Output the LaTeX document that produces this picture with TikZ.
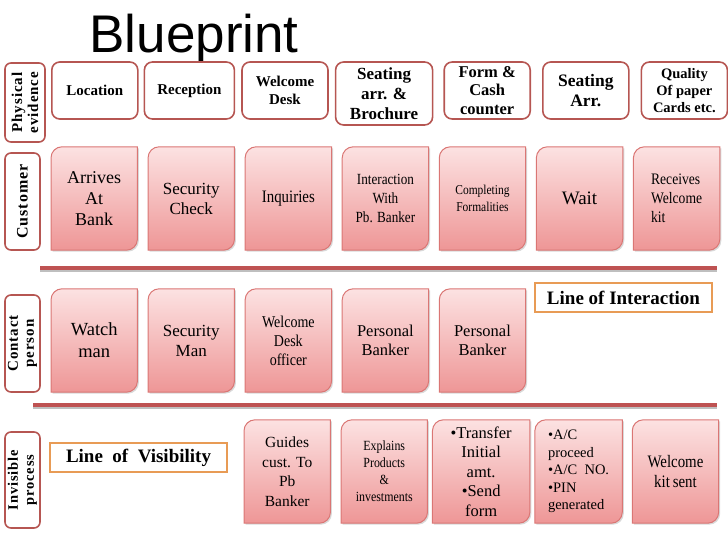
\documentclass[tikz,border=0pt]{standalone}
\usepackage{fontspec}
\setmainfont{Liberation Serif}
\newfontfamily\condfont[FakeStretch=0.85]{Liberation Serif}
\newfontfamily\spacedfont[LetterSpace=6]{Liberation Serif}
\newfontfamily\titlefont{Liberation Sans}
\usetikzlibrary{backgrounds,positioning,shadows}
\definecolor{bpred}{RGB}{182,86,82}
\definecolor{bpline}{RGB}{190,82,82}
\definecolor{bppink}{RGB}{218,118,116}
\definecolor{bptop}{RGB}{252,226,226}
\definecolor{bpbot}{RGB}{238,150,150}
\definecolor{bporange}{RGB}{232,155,85}
\newcommand\fsz[2]{\fontsize{#1}{#2}\selectfont}

\begin{document}
\begin{tikzpicture}[x=1pt,y=1pt,node distance=10.67pt,
    evid/.style={draw=bpred,line width=1.6pt,rounded corners=8pt,fill=white,minimum width=86pt,minimum height=57pt,inner sep=2pt,align=center,font=\bfseries\fsz{15}{18}},
    act/.style={minimum width=86pt,minimum height=103pt,inner sep=2pt,align=center},
    actframe/.style={draw=bppink,line width=1pt,top color=bptop,bottom color=bpbot,drop shadow={shadow xshift=1.5pt,shadow yshift=-1.5pt,opacity=.3}},
    lane/.style={draw=bpred,line width=1.6pt,rounded corners=6pt,rotate=90,minimum height=35pt,inner sep=1pt,align=center,font=\spacedfont\bfseries\fsz{15}{16}},
    linebox/.style={draw=bporange,line width=1.6pt,fill=white,minimum width=177pt,minimum height=29pt,inner sep=2pt,font=\bfseries\fsz{19}{22}},
    sepline/.style={bpline,line width=3.5pt}]
        \useasboundingbox (0,0) rectangle (728,-546);
        \node[anchor=base west,font=\titlefont\fsz{53}{60}] (title) at (86,-52) {Blueprint};
        \node[lane,minimum width=79pt,minimum height=40pt] (l1) at (25,-102.5) {Physical\\evidence};
        \node[lane,minimum width=97pt,font=\spacedfont\bfseries\fsz{16}{16}] (l2) at (22.5,-201.5) {Customer};
        \node[lane,minimum width=97pt] (l3) at (22.5,-343.5) {Contact\\person};
        \node[lane,minimum width=96pt,font=\spacedfont\bfseries\fsz{14.5}{16}] (l4) at (22.5,-480) {Invisible\\process};
        \node[evid,anchor=west] (p1) at (51,-90.5) {Location};
        \node[evid,minimum width=90pt,right=5pt of p1] (p2) {Reception};
        \node[evid,right=6pt of p2] (p3) {Welcome\\Desk};
        \node[evid,minimum width=97pt,minimum height=63pt,font=\bfseries\fsz{17}{20},right=6pt of p3,yshift=-3pt] (p4) {Seating\\arr. \&\\Brochure};
        \node[evid,font=\bfseries\fsz{16.5}{18.5},right=10pt of p4,yshift=3pt] (p5) {Form \&\\Cash\\counter};
        \node[evid,font=\bfseries\fsz{17.5}{20},right=11pt of p5] (p6) {Seating\\Arr.};
        \node[evid,font=\bfseries\fsz{14.5}{17},right=11pt of p6] (p7) {Quality\\Of paper\\Cards etc.};
        \node[act,anchor=west,font=\fsz{18}{21}] (c1) at (51,-198.5) {Arrives\\At\\Bank};
        \node[act,font=\fsz{17}{20},right=of c1] (c2) {Security\\Check};
        \node[act,font=\condfont\fsz{17.5}{20},right=of c2] (c3) {Inquiries};
        \node[act,font=\condfont\fsz{15.5}{19},right=of c3] (c4) {Interaction\\With\\Pb. Banker};
        \node[act,font=\condfont\fsz{13.5}{17},right=of c4] (c5) {Completing\\Formalities};
        \node[act,font=\fsz{19}{22},right=of c5] (c6) {Wait};
        \node[act,align=left,font=\condfont\fsz{16}{19},right=of c6] (c7) {Receives\\Welcome\\kit};
        \node[act,anchor=west,font=\fsz{18.5}{22}] (k1) at (51,-340.5) {Watch\\man};
        \node[act,font=\fsz{17}{20},right=of k1] (k2) {Security\\Man};
        \node[act,font=\condfont\fsz{16.5}{19},right=of k2] (k3) {Welcome\\Desk\\officer};
        \node[act,font=\fsz{16.5}{19.5},right=of k3] (k4) {Personal\\Banker};
        \node[act,font=\fsz{16.5}{19.5},right=of k4] (k5) {Personal\\Banker};
        \node[act,anchor=west,font=\fsz{15.5}{19.5}] (i3) at (244,-471.5) {Guides\\cust. To\\Pb\\Banker};
        \node[act,font=\condfont\fsz{14}{17},right=of i3] (i4) {Explains\\Products\\\&\\investments};
        \node[act,minimum width=97pt,font=\fsz{16.5}{19.5},right=5pt of i4] (i5) {•Transfer\\Initial\\amt.\\•Send\\form};
        \node[act,minimum width=87pt,align=left,font=\fsz{14.5}{17.5},right=5pt of i5] (i6) {•A/C\\proceed\\•A/C\ \ NO.\\•PIN\\generated};
        \node[act,font=\condfont\fsz{17.5}{20},right=10pt of i6] (i7) {Welcome\\kit\,sent};
        \begin{scope}[on background layer]
        \foreach \n in {c1,c2,c3,c4,c5,c6,c7,k1,k2,k3,k4,k5,i3,i4,i5,i6,i7}
          \path[actframe] (\n.south west) -- ([yshift=-11pt]\n.north west) arc[start angle=180,end angle=90,radius=11pt] -- (\n.north east) -- ([yshift=11pt]\n.south east) arc[start angle=0,end angle=-90,radius=11pt] -- cycle;
        \end{scope}
        \coordinate (ia) at (40,-268); \coordinate (ib) at (717,-268);
        \coordinate (va) at (33,-405); \coordinate (vb) at (717,-405);
        \draw[black!25,line width=3pt] ([yshift=-2.5pt]ia) -- ([yshift=-2.5pt]ib);
        \draw[black!25,line width=3pt] ([yshift=-2.5pt]va) -- ([yshift=-2.5pt]vb);
        \draw[sepline] (ia) -- (ib); \draw[sepline] (va) -- (vb);
        \node[linebox] (loi) at (623.5,-297.5) {Line of Interaction};
        \node[linebox] (lov) at (138.5,-457.5) {Line\ \ of\ \ Visibility};
      \end{tikzpicture}
\end{document}
